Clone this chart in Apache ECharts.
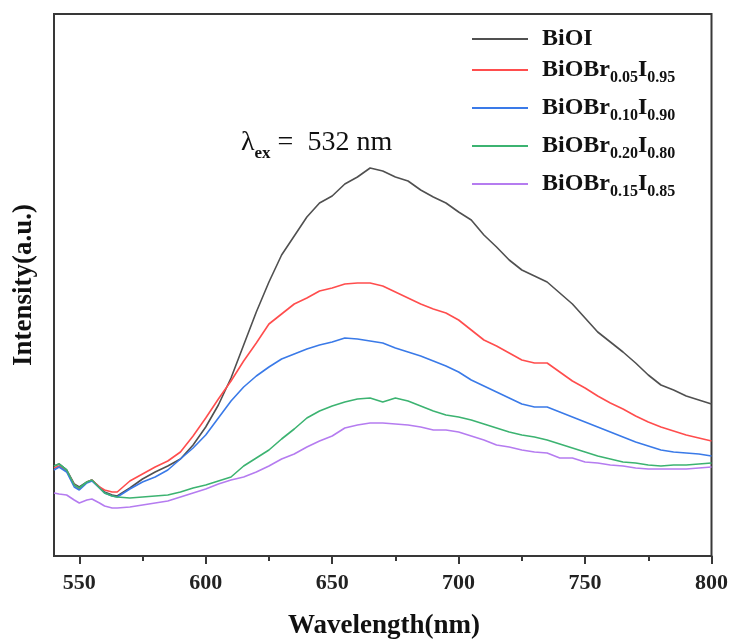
<!DOCTYPE html>
<html><head><meta charset="utf-8">
<script src="https://cdn.jsdelivr.net/npm/echarts@6.0.0/dist/echarts.min.js"></script>
<style>html,body{margin:0;padding:0;background:#fff}#c{width:731px;height:640px}</style>
</head><body><div id="c"></div>
<script>
// ---- data ----
const wavelengths = [540,542,545,548,550,553,555,558,560,563,565,
  570,575,580,585,590,595,600,605,610,615,620,625,630,635,640,645,650,655,660,665,670,675,680,685,690,695,
  700,705,710,715,720,725,730,735,740,745,750,755,760,765,770,775,780,785,790,795,800];
const seriesNames = ['BiOI','BiOBr0.05I0.95','BiOBr0.10I0.90','BiOBr0.20I0.80','BiOBr0.15I0.85'];
const biOI = [90,92,86,72,69,74,76,69,64,61,60,
  68,77,84,90,97,111,129,151,178,211,244,274,301,320,339,353,360,372,379,388,385,379,375,366,359,353,
  344,336,321,309,296,286,280,274,263,252,238,224,214,204,193,181,171,166,160,156,152];
const br005 = [88,90,85,71,67,74,76,69,66,64,64,
  75,82,89,95,104,120,138,157,175,195,213,232,242,252,258,265,268,272,273,273,270,264,258,252,247,243,
  236,226,216,210,203,196,193,193,184,175,168,160,153,147,140,134,129,125,121,118,115];
const br010 = [86,89,84,69,66,73,75,68,63,60,59,
  67,74,79,86,97,108,121,138,155,169,180,189,197,202,207,211,214,218,217,215,213,208,204,200,195,190,
  184,176,170,164,158,152,149,149,144,139,134,129,124,119,114,110,106,104,103,102,100];
const br020 = [90,92,86,71,68,74,76,68,63,60,59,
  58,59,60,61,64,68,71,75,79,90,98,106,117,127,138,145,150,154,157,158,154,158,155,150,145,141,
  139,136,132,128,124,121,119,116,112,108,104,100,97,94,93,91,90,91,91,92,93];
const br015 = [63,62,61,56,53,56,57,53,50,48,48,
  49,51,53,55,59,63,67,72,76,79,84,90,97,102,109,115,120,128,131,133,133,132,131,129,126,126,
  124,120,116,111,109,106,104,103,98,98,94,93,91,90,88,87,87,87,87,88,89];
const xMajorTicks = [550,600,650,700,750,800];
const xMinorTicks = [575,625,675,725,775];
const xRange = [540, 800];
const yRange = [0, 542];
const xTitle = 'Wavelength(nm)';
const yTitle = 'Intensity(a.u.)';

// ---- styling ----
const allValues = [biOI, br005, br010, br020, br015];
const colors = ['#505050','#ff4d4d','#3a7ae8','#3cb371','#b57cf0'];
const FONT = '"Liberation Serif", "Times New Roman", serif';
const AX = '#383838';

function richName(n){
  return n.replace(/(\d\.\d+)|([^\d.]+)/g, (m, num, txt) => num ? '{s|' + num + '}' : '{m|' + txt + '}');
}
const legendRich = {
  m: {fontSize: 24, fontWeight: 'bold', fontFamily: FONT, color: '#111', lineHeight: 24, verticalAlign: 'top'},
  s: {fontSize: 16, fontWeight: 'bold', fontFamily: FONT, color: '#111', lineHeight: 16, padding: [12,0,0,0], verticalAlign: 'top'}
};
function legendCfg(names, top, gap){
  return {
    data: names, orient: 'vertical', left: 472, top: top, padding: 0, itemGap: gap,
    icon: 'rect', itemWidth: 56, itemHeight: 2,
    formatter: richName,
    textStyle: {padding: [0,0,0,9], rich: legendRich}
  };
}

const chart = echarts.init(document.getElementById('c'), null, {renderer: 'canvas'});
chart.setOption({
  animation: false,
  backgroundColor: '#fff',
  grid: {left: 54, right: 17, top: 14, bottom: 84, show: true, borderColor: AX, borderWidth: 2, backgroundColor: 'transparent'},
  xAxis: [{
    type: 'value', min: xRange[0], max: xRange[1],
    axisLine: {lineStyle: {color: AX, width: 2}},
    axisTick: {customValues: xMajorTicks, length: 8, lineStyle: {color: AX, width: 2}},
    axisLabel: {customValues: xMajorTicks, margin: 16, fontSize: 22, fontWeight: 'bold', fontFamily: FONT, color: '#222'},
    splitLine: {show: false}
  }, {
    type: 'value', min: xRange[0], max: xRange[1], position: 'bottom',
    axisLine: {show: false},
    axisTick: {customValues: xMinorTicks, length: 5, lineStyle: {color: AX, width: 2}},
    axisLabel: {show: false},
    splitLine: {show: false}
  }],
  yAxis: {
    type: 'value', min: yRange[0], max: yRange[1],
    axisLine: {show: true, lineStyle: {color: AX, width: 2}},
    axisTick: {show: false}, axisLabel: {show: false}, splitLine: {show: false}
  },
  legend: [legendCfg([seriesNames[0]], 27, 10), legendCfg(seriesNames.slice(1), 58, 10)],
  series: seriesNames.map((n, i) => ({
    name: n, type: 'line', xAxisIndex: 0, yAxisIndex: 0,
    data: wavelengths.map((w, j) => [w, allValues[i][j]]),
    symbol: 'none', smooth: false,
    lineStyle: {width: 1.6, color: colors[i]},
    itemStyle: {color: colors[i]}
  })),
  graphic: [
    {type: 'text', x: 384, y: 626, style: {text: xTitle, font: 'bold 27px ' + FONT, fill: '#111', align: 'center', verticalAlign: 'middle'}},
    {type: 'text', x: 24, y: 285, rotation: Math.PI / 2, style: {text: yTitle, font: 'bold 27px ' + FONT, fill: '#111', align: 'center', verticalAlign: 'middle'}},
    {type: 'text', x: 241, y: 144, style: {
      text: '{a|λ}{b|ex}{c| =  532 nm}', verticalAlign: 'middle', align: 'left',
      rich: {
        a: {fontSize: 28, fontFamily: FONT, fill: '#111', lineHeight: 30, verticalAlign: 'top'},
        b: {fontSize: 17, fontFamily: FONT, fontWeight: 'bold', fill: '#111', lineHeight: 17, padding: [16,0,0,0], verticalAlign: 'top'},
        c: {fontSize: 28, fontFamily: FONT, fill: '#111', lineHeight: 30, verticalAlign: 'top'}
      }
    }}
  ]
});
</script>
</body></html>
